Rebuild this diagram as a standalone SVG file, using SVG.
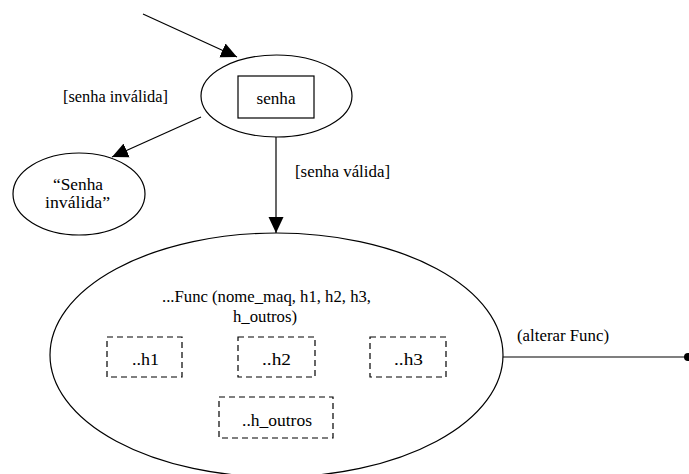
<svg xmlns="http://www.w3.org/2000/svg" width="689" height="474" viewBox="0 0 689 474">
  <style>
    .shape { fill: none; stroke: #000; stroke-width: 1.2; }
    .dash { fill: none; stroke: #000; stroke-width: 1.2; stroke-dasharray: 6 4; }
    .edge { fill: none; stroke: #000; stroke-width: 1.2; }
    text { font-family: "Liberation Serif", "Times New Roman", serif; font-size: 16px; fill: #000; }
    .mid { text-anchor: middle; }
  </style>
  <defs>
    <marker id="arrow" markerUnits="userSpaceOnUse" markerWidth="16" markerHeight="16" refX="16" refY="8" orient="auto">
      <path d="M0,0.5 L16,8 L0,15.5 z" fill="#000"/>
    </marker>
  </defs>

  <rect width="689" height="474" fill="#fff"/>

  <!-- connectors -->
  <g id="connectors">
    <line class="edge" x1="143" y1="14" x2="237" y2="57" marker-end="url(#arrow)"/>
    <line class="edge" x1="201" y1="117" x2="112" y2="157" marker-end="url(#arrow)"/>
    <line class="edge" x1="276" y1="137" x2="276" y2="233" marker-end="url(#arrow)"/>
    <line class="edge" x1="503" y1="357" x2="688" y2="357" stroke-width="1.6"/>
    <circle cx="688" cy="357" r="4" fill="#000"/>
    <text x="63" y="102" textLength="105" lengthAdjust="spacingAndGlyphs">[senha inválida]</text>
    <text x="295" y="177" textLength="95" lengthAdjust="spacingAndGlyphs">[senha válida]</text>
    <text x="517" y="341" textLength="92" lengthAdjust="spacingAndGlyphs">(alterar Func)</text>
  </g>

  <!-- password state -->
  <g id="senha">
    <ellipse class="shape" cx="276.5" cy="96" rx="75.5" ry="41"/>
    <rect class="shape" x="238" y="76" width="76" height="42"/>
    <text class="mid" x="276" y="104" textLength="39" lengthAdjust="spacingAndGlyphs">senha</text>
  </g>

  <!-- invalid password message -->
  <g id="senha-invalida">
    <ellipse class="shape" cx="79" cy="194" rx="66" ry="41"/>
    <text x="53" y="190" textLength="50" lengthAdjust="spacingAndGlyphs">“Senha</text>
    <text x="45" y="208" textLength="65" lengthAdjust="spacingAndGlyphs">inválida”</text>
  </g>

  <!-- function state with its fields -->
  <g id="func">
    <ellipse class="shape" cx="276.5" cy="355" rx="226.5" ry="122"/>
    <text x="162" y="302" textLength="209" lengthAdjust="spacingAndGlyphs">...Func (nome_maq, h1, h2, h3,</text>
    <text x="233" y="322" textLength="64" lengthAdjust="spacingAndGlyphs">h_outros)</text>
  </g>

  <g id="h1">
    <rect class="dash" x="107" y="337" width="75" height="40"/>
    <text x="132" y="365" textLength="27" lengthAdjust="spacingAndGlyphs">..h1</text>
  </g>

  <g id="h2">
    <rect class="dash" x="238" y="337" width="77" height="40"/>
    <text x="262" y="365" textLength="29" lengthAdjust="spacingAndGlyphs">..h2</text>
  </g>

  <g id="h3">
    <rect class="dash" x="370" y="337" width="76" height="40"/>
    <text x="394" y="365" textLength="29" lengthAdjust="spacingAndGlyphs">..h3</text>
  </g>

  <g id="h_outros">
    <rect class="dash" x="219" y="397" width="114" height="41"/>
    <text x="242" y="426" textLength="70" lengthAdjust="spacingAndGlyphs">..h_outros</text>
  </g>
</svg>
